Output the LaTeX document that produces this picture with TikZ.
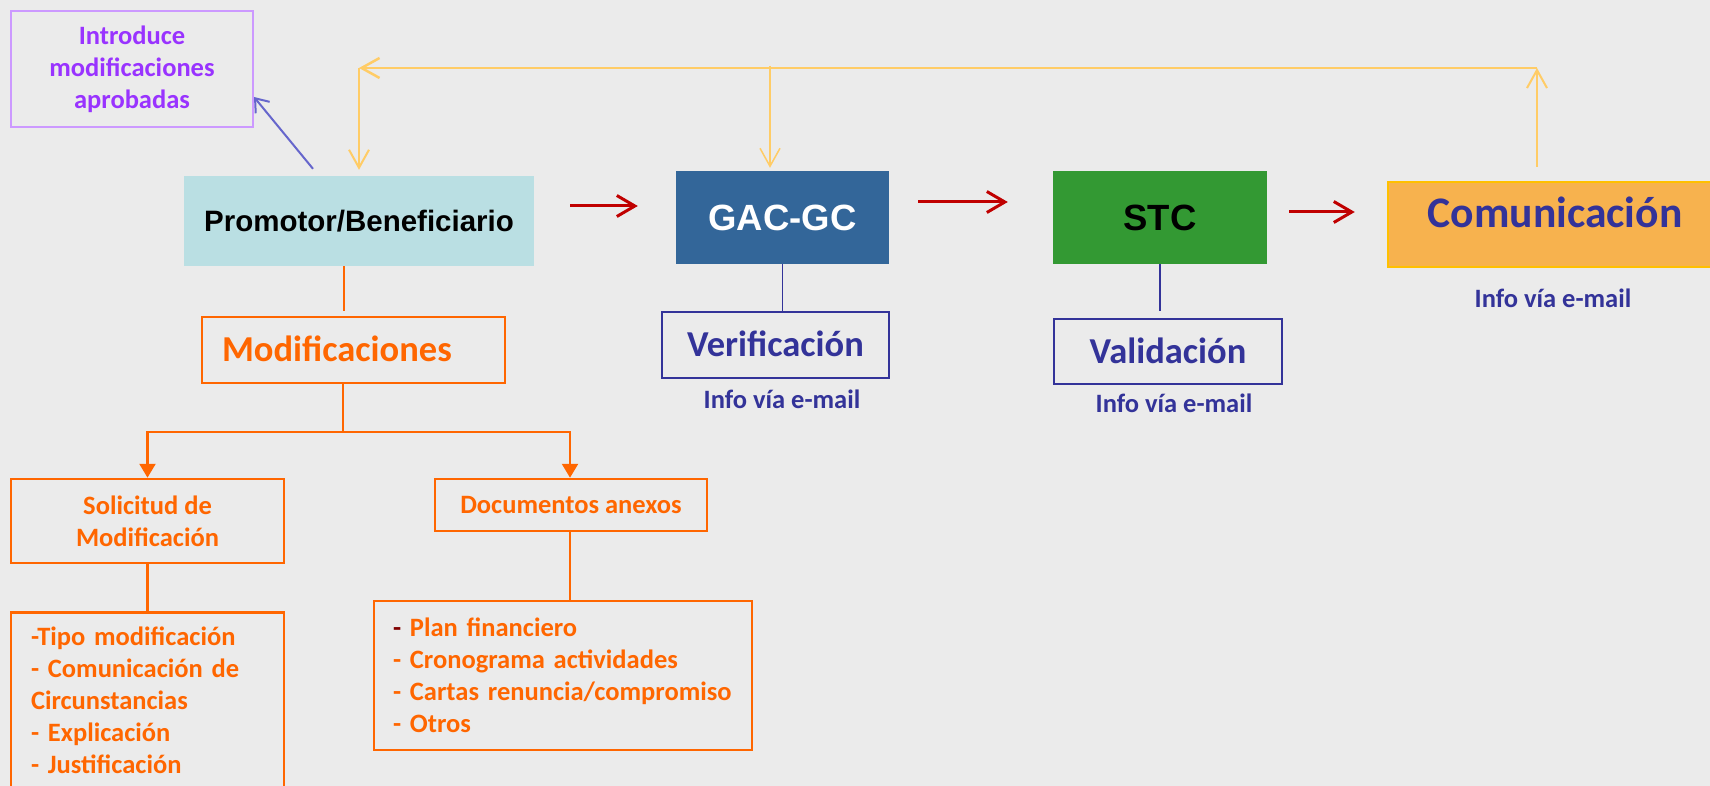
\documentclass[tikz,border=0pt]{standalone}
\usepackage{fontspec}
\setmainfont{Carlito}
\newfontfamily\arialf{Liberation Sans}
\usetikzlibrary{arrows.meta}
\definecolor{bgc}{HTML}{EBEBEB}
\definecolor{promfill}{HTML}{BADFE3}
\definecolor{gacfill}{HTML}{336699}
\definecolor{stcfill}{HTML}{339933}
\definecolor{comfill}{HTML}{F7B24E}
\definecolor{comborder}{HTML}{FFC000}
\definecolor{navy}{HTML}{333399}
\definecolor{orng}{HTML}{FF6600}
\definecolor{purptext}{HTML}{9933FF}
\definecolor{purpborder}{HTML}{CC99FF}
\definecolor{bluearrow}{HTML}{6666CC}
\definecolor{yel}{HTML}{FFCC66}
\definecolor{redc}{HTML}{C00000}
\definecolor{darkdash}{HTML}{800000}
\begin{document}
\begin{tikzpicture}[x=1pt,y=-1pt,
  smallt/.style={font=\bfseries\fontsize{26.5}{32}\selectfont},
  bigt/.style={font=\bfseries\fontsize{36.5}{40}\selectfont, text height=23.5pt, text depth=0pt},
  arialbig/.style={font=\arialf\bfseries\fontsize{36.5}{40}\selectfont, text height=26pt, text depth=0pt},
  obox/.style={draw=orng, line width=2.5pt, text=orng},
  nbox/.style={draw=navy, line width=2pt, text=navy},
  oline/.style={draw=orng, line width=2.5pt},
  nline/.style={draw=navy, line width=1.5pt},
  redarrow/.style={draw=redc, line width=3pt, -{Straight Barb[length=18pt,width=21pt]}},
  yarrow/.style={draw=yel, line width=2pt, -{Straight Barb[length=18pt,width=20pt]}},
  otri/.style={-{Triangle[length=14pt,width=16pt]}},
  infot/.style={smallt, text=navy, text height=17pt, text depth=0pt, inner sep=0pt},
]
\useasboundingbox (0,0) rectangle (1710,786);
\fill[bgc] (0,0) rectangle (1710,786);

% top-left note
\node[draw=purpborder, line width=2pt, text=purptext, smallt, align=center,
      minimum width=242pt, minimum height=116pt, inner sep=0pt] (intro) at (132,69)
      {\rule{0pt}{4pt}Introduce\\modificaciones\\aprobadas};

% main row
\node[fill=promfill, minimum width=350pt, minimum height=90pt,
      font=\arialf\bfseries\fontsize{29.5}{32}\selectfont, text height=21pt, text depth=0pt] (prom) at (359,221) {Promotor/Beneficiario};
\node[fill=gacfill, text=white, arialbig, minimum width=213pt, minimum height=93pt] (gac) at (782.5,217.5) {GAC-GC};
\node[fill=stcfill, text=black, arialbig, minimum width=214pt, minimum height=93pt] (stc) at (1160,217.5) {STC};
\node[fill=comfill, draw=comborder, line width=2.5pt, minimum width=334pt, minimum height=85pt] (com) at (1555,224.5) {};
\node[text=navy, font=\bfseries\fontsize{43.6}{48}\selectfont, text height=28pt, text depth=0pt, inner sep=0pt] (comt) at (1555,214) {Comunicación};

% sub boxes
\node[nbox, bigt, minimum width=227pt, minimum height=66pt] (verif) at (775.5,345) {Verificación};
\node[nbox, bigt, minimum width=228pt, minimum height=65pt] (valid) at (1168,351.5) {Validación};
\node[infot] (info1) at (782,400) {Info vía e-mail};
\node[infot] (info2) at (1174,404) {Info vía e-mail};
\node[infot] (info3) at (1553,299) {Info vía e-mail};

% tree
\node[obox, bigt, minimum width=303pt, minimum height=66pt, text width=263pt, inner xsep=20pt, align=left] (modif) at (353.5,350) {Modificaciones};
\node[obox, smallt, align=center, minimum width=273pt, minimum height=84pt] (solic) at (147.5,521) {Solicitud de\\Modificación};
\node[obox, smallt, text height=17pt, text depth=0pt, minimum width=272pt, minimum height=52pt] (docs) at (571,505) {Documentos anexos};
\node[obox, smallt, align=left, text width=233pt, inner xsep=20pt, inner ysep=15pt, anchor=north] (list1) at (147.5,611)
  {-Tipo modificación\\- Comunicación de\\Circunstancias\\- Explicación\\- Justificación};
\node[obox, smallt, align=left, text width=340pt, inner xsep=19pt, minimum width=378pt, minimum height=149pt] (list2) at (563,675.5)
  {\rule{0pt}{4pt}{\color{darkdash}-} Plan financiero\\- Cronograma actividades\\- Cartas renuncia/compromiso\\- Otros};

% connectors: red flow
\draw[redarrow] ([xshift=36pt,yshift=15pt]prom.east) -- ([xshift=-38pt,yshift=11.5pt]gac.west);
\draw[redarrow] ([xshift=29pt,yshift=15.5pt]gac.east) -- ([xshift=-45pt,yshift=15.5pt]stc.west);
\draw[redarrow] ([xshift=22pt,yshift=5.5pt]stc.east) -- ([xshift=-32pt,yshift=12.5pt]com.west);

% yellow feedback
\coordinate (ytr) at (1537,68);
\coordinate (ytl) at (359,68);
\coordinate (ymid) at (770,66);
\draw[yarrow] ([xshift=-18pt,yshift=14pt]com.north) -- (ytr);
\draw[yarrow, line width=2.5pt] (ytr) -- (ytl);
\draw[yarrow] (ytl) -- ([yshift=6pt]prom.north);
\draw[yarrow, line width=1.5pt] (ymid) -- ([xshift=-12.5pt,yshift=3pt]gac.north);

% blue arrow
\draw[draw=bluearrow, line width=2pt, -{Straight Barb[length=12pt,width=18pt]}]
  ([xshift=-46pt,yshift=7pt]prom.north) -- ([yshift=-28pt]intro.east);

% navy connectors
\draw[nline] (gac.south) -- (gac.south |- verif.north);
\draw[nline] (stc.south) -- ([yshift=7pt]stc.south |- valid.north);

% orange tree connectors
\coordinate (br) at (343,432);
\draw[oline] ([xshift=-15pt]prom.south) -- ([xshift=-9.5pt,yshift=5pt]modif.north);
\draw[oline] ([xshift=-10.5pt]modif.south) -- (br);
\draw[oline, otri] (br) -| (solic.north);
\draw[oline, otri] (br) -| ([xshift=-1pt]docs.north);
\draw[oline] (solic.south) -- (list1.north);
\draw[oline] ([xshift=-1pt]docs.south) -- ([xshift=-1pt]docs.south |- list2.north);
\end{tikzpicture}
\end{document}
